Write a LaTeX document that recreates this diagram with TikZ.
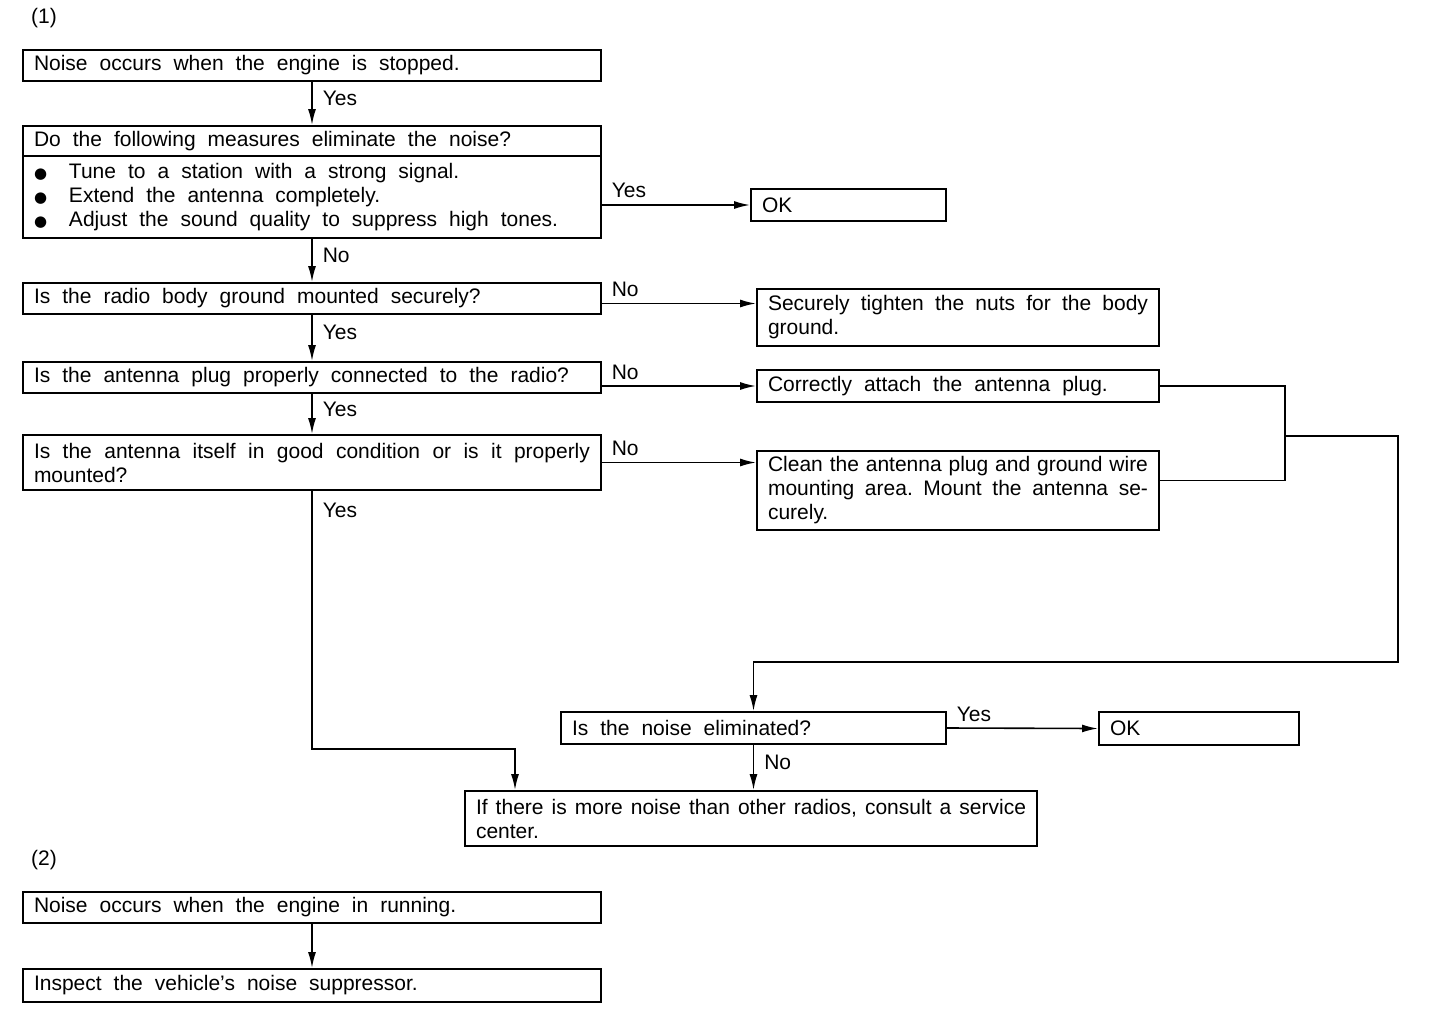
\documentclass[tikz,border=0pt]{standalone}
\usepackage{fontspec}
\setmainfont{Liberation Sans}
\newfontfamily\symfont{DejaVu Sans}
\usetikzlibrary{arrows.meta,positioning}
\frenchspacing
\newcommand\bul{\makebox[35pt][l]{\symfont\fontsize{15}{24}\selectfont ●}}
\tikzset{
  arr/.style={-{Latex[length=16pt,width=8pt]},line width=1.6pt},
  link/.style={line width=1.6pt},
  box/.style={rectangle,draw,line width=2pt,anchor=north west,inner xsep=11pt,
    inner ysep=3pt,minimum height=32pt,align=justify,
    font=\fontsize{21}{24}\selectfont},
  wsp/.style={execute at begin node={\spaceskip=12pt plus 4pt minus 2pt}},
  wbox/.style={box,wsp},
  lw/.style={minimum width=578pt,text width=556pt},
  rw/.style={minimum width=402pt,text width=380pt},
  lbl/.style={font=\fontsize{21}{24}\selectfont,inner sep=3pt},
  vlbl/.style={lbl,pos=0.38,right,xshift=7pt},
  hlbl/.style={lbl,pos=0,above right,xshift=6pt,yshift=3pt},
}
\begin{document}
\begin{tikzpicture}[x=1pt,y=-1pt]
\useasboundingbox (0,0) rectangle (1440,1020);

% part (1)
\node[lbl,anchor=west] (p1) at (28,18) {(1)};
\node[wbox,lw,minimum height=31pt] (A) at (22,49) {Noise occurs when the engine is stopped.};

\node[wbox,lw,minimum height=30pt] (Bh) at (22,125) {Do the following measures eliminate the noise?};
\node[wbox,lw,below=-2pt of Bh,minimum height=82pt] (Bb) {%
  \bul Tune to a station with a strong signal.\\
  \bul Extend the antenna completely.\\
  \bul Adjust the sound quality to suppress high tones.};
\node[wbox,minimum width=195pt,text width=173pt] (OKa) at (750,188) {OK};

\node[wbox,lw,minimum height=31pt] (C) at (22,282) {Is the radio body ground mounted securely?};
\node[wbox,rw,minimum height=57pt] (D) at (756,288) {Securely tighten the nuts for the body\linebreak ground.};

\node[wbox,lw,minimum height=31pt] (E) at (22,361) {Is the antenna plug properly connected to the radio?};
\node[wbox,rw] (F) at (756,369) {Correctly attach the antenna plug.};

\node[wbox,lw,minimum height=55pt] (G) at (22,434) {Is the antenna itself in good condition or is it properly\linebreak mounted?};
\node[box,rw,minimum height=79pt] (H) at (756,450)
  {Clean the antenna plug and ground wire\linebreak mounting area. Mount the antenna se-\linebreak curely.};

\node[wbox,minimum width=385pt,text width=363pt] (I) at (560,711) {Is the noise eliminated?};
\node[wbox,minimum width=200pt,text width=178pt,minimum height=33pt] (OKb) at (1098,711) {OK};
\node[box,minimum width=572pt,text width=550pt,minimum height=55pt] (J) at (464,790)
  {If there is more noise than other radios, consult a service\linebreak center.};

% part (2)
\node[lbl,anchor=west] (p2) at (28,860) {(2)};
\node[wbox,lw,minimum height=31pt] (K) at (22,891) {Noise occurs when the engine in running.};
\node[wbox,lw,minimum height=33pt] (L) at (22,968) {Inspect the vehicle's noise suppressor.};

% connectors
\draw[arr] (A) -- (Bh) node[vlbl]{Yes};
\draw[arr] (Bb.east |- OKa.west) -- (OKa.west) node[hlbl]{Yes};
\draw[arr] (Bb) -- (C) node[vlbl]{No};
\draw[arr] ([yshift=-5pt]C.east) -- ([yshift=-5pt]C.east -| D.west) node[hlbl]{No};
\draw[arr] (C) -- (E) node[vlbl]{Yes};
\draw[arr] (E.east |- F.west) -- (F.west) node[hlbl]{No};
\draw[arr] (E) -- (G) node[vlbl]{Yes};
\draw[arr] (G.east) -- (G.east -| H.west) node[hlbl]{No};
\draw[arr] (G.south) -- ++(0,258) node[vlbl,pos=0.075]{Yes} -| ([xshift=51pt]J.north west);

\coordinate (merge) at (1285,436);
\draw[link] (F.east) -| (merge) |- ([yshift=10pt]H.east);
\draw[arr] (merge) -| ++(113,226) -| (I.north);
\draw[arr] (I.east) -- (OKb.west) node[hlbl]{Yes};
\draw[arr] (I) -- (I.south |- J.north) node[vlbl]{No};

\draw[arr] (K) -- (L);
\end{tikzpicture}
\end{document}
